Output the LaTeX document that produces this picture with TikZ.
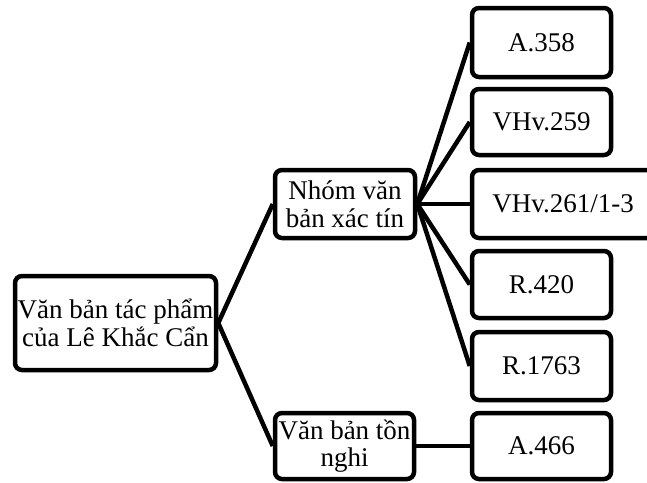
\documentclass[tikz,border=0pt]{standalone}
\usepackage{fontspec}
\setmainfont{Liberation Serif}
\begin{document}
\begin{tikzpicture}[x=1pt,y=-1pt,
  box/.style={draw,rectangle,rounded corners=7pt,line width=4.5pt,fill=white,inner sep=0pt,align=center,font=\fontsize{27}{27.5}\selectfont},
  link/.style={line width=4.5pt}]
\useasboundingbox (0,0) rectangle (647,482);
\node[box,minimum width=201pt,minimum height=94pt] (root) at (115.5,323) {Văn bản tác phẩm\\của Lê Khắc Cẩn};
\node[box,minimum width=140pt,minimum height=68pt] (nhom) at (345,204) {Nhóm văn\\bản xác tín};
\node[box,minimum width=139pt,minimum height=66pt] (ton) at (344.5,446) {Văn bản tồn\\nghi};
\node[box,minimum width=139pt,minimum height=66pt] (a466) at (541.5,446) {A.466};
\node[box,minimum width=139pt,minimum height=69pt] (a358) at (541.5,42.5) {A.358};
\node[box,minimum width=139pt,minimum height=66pt] (v259) at (541.5,122) {VHv.259};
\node[box,minimum width=182pt,minimum height=68pt] (v261) at (563,204) {VHv.261/1-3};
\node[box,minimum width=139pt,minimum height=67pt] (r420) at (541.5,284.5) {R.420};
\node[box,minimum width=139pt,minimum height=68pt] (r1763) at (541.5,366) {R.1763};
\draw[link] (root.east) -- (nhom.west);
\draw[link] (root.east) -- (ton.west);
\draw[link] (ton.east) -- (a466.west);
\foreach \c in {a358,v259,v261,r420,r1763}
  \draw[link] (nhom.east) -- (\c.west);
\end{tikzpicture}
\end{document}
